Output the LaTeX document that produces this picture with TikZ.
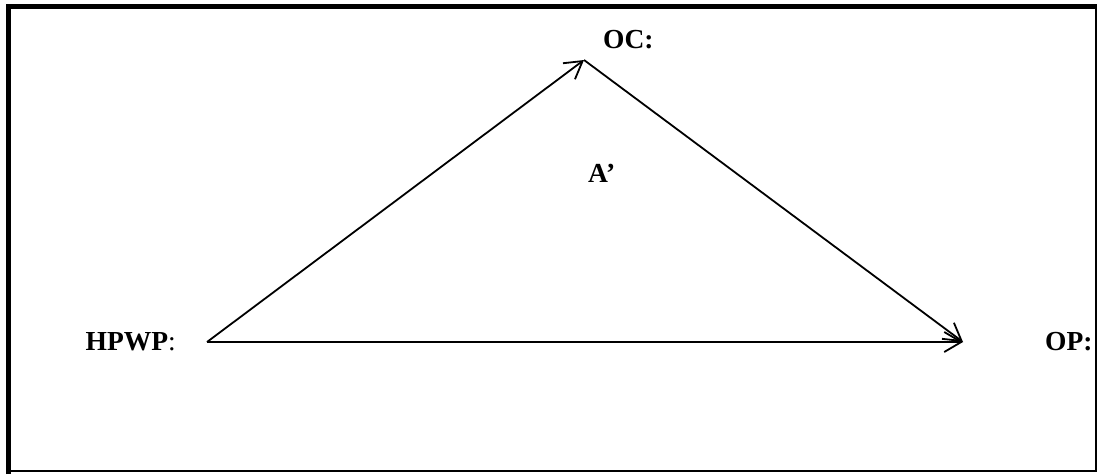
\documentclass[tikz,border=0pt]{standalone}
\usepackage{fontspec}
\setmainfont{Liberation Serif}
\usetikzlibrary{arrows.meta}
\begin{document}
\begin{tikzpicture}[x=1pt,y=-1pt,
  lbl/.style={inner sep=0pt,anchor=base west,font=\fontsize{27.5}{30}\selectfont\bfseries},
  conn/.style={line width=1.8pt,-{Straight Barb[length=17pt,width=20pt,line width=1.8pt]}}]
\useasboundingbox (0,0) rectangle (1099,474);
% frame
\draw[line width=5pt] (8.5,474) -- (8.5,6) -- (1097,6);
\draw[line width=4pt] (6,6) -- (1097,6);
\draw[line width=2pt] (1096,5) -- (1096,471) -- (6,471);
% labels
\node[lbl] (hpwp) at (85.5,350) {HPWP\mdseries:};
\node[lbl] (oc) at (603,48) {OC:};
\node[lbl] (a) at (588,182) {A’};
\node[lbl] (op) at (1045,350) {OP:};
% points
\coordinate (p1) at (207,342);
\coordinate (p2) at (584,60);
\coordinate (p3) at (963,342);
\draw[conn] (p1) -- (p2);
\draw[conn] (p2) -- (p3);
\draw[conn] (p1) -- (p3);
\end{tikzpicture}
\end{document}
